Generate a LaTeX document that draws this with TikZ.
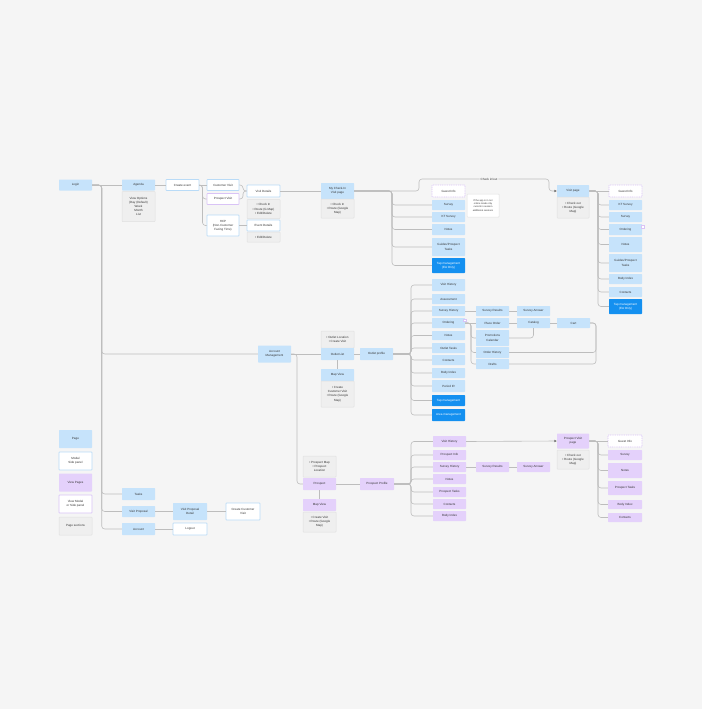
\documentclass[tikz,border=0pt]{standalone}
\usepackage{fontspec}
\setmainfont{Liberation Sans}
\usetikzlibrary{arrows.meta}
\definecolor{bg}{HTML}{F5F5F5}
\definecolor{pblue}{HTML}{C6E3FB}
\definecolor{mblue}{HTML}{B9DBF7}
\definecolor{dblue}{HTML}{1490F0}
\definecolor{purp}{HTML}{E4D1FB}
\definecolor{purpb}{HTML}{D9C3F6}
\definecolor{secg}{HTML}{EFEFEF}
\definecolor{secb}{HTML}{E0E0E0}
\definecolor{lineg}{HTML}{BDBDBD}
\definecolor{txt}{HTML}{333333}
\begin{document}
\begin{tikzpicture}[x=1pt,y=-1pt,
 box/.style={minimum width=33pt, inner sep=0.3pt, align=center, font=\fontsize{3}{4.2}\selectfont, text=txt, rounded corners=0.6pt},
 hh/.style={minimum height=#1pt},
 ww/.style={minimum width=#1pt},
 pg/.style={box, fill=pblue},
 md/.style={box, fill=white, draw=mblue, line width=0.7pt},
 vw/.style={box, fill=purp},
 vm/.style={box, fill=white, draw=purpb, line width=0.7pt},
 gi/.style={box, fill=white, draw=purpb, line width=0.6pt, dash pattern=on 1pt off 0.8pt},
 dk/.style={box, fill=dblue, text=white},
 sec/.style={box, fill=secg, draw=secb, line width=0.5pt},
 notebox/.style={box, fill=white, draw=secb, line width=0.5pt, font=\fontsize{2.4}{3.2}\selectfont},
 mk/.style={draw=purpb, fill=white, line width=0.5pt, minimum size=2.5pt, inner sep=0pt},
 conn/.style={draw=lineg, line width=0.6pt, rounded corners=3pt},
 arr/.style={conn, -{Triangle[length=2.4pt,width=2.2pt,color=black!55]}},
]
\fill[bg] (0,0) rectangle (702,709);
\useasboundingbox (0,0) rectangle (702,709);

% ---------- top-left ----------
\node[pg,hh=11] (login) at (75.5,185) {Login};
\node[pg,hh=11] (agenda) at (138.5,185) {Agenda};
\node[sec,hh=30] (agsec) at (138.5,206.5) {View Options\\(Day (Default)\\Week\\Month\\List};
\node[md,hh=11] (create) at (182.5,185) {Create event};
\node[md,hh=11,ww=32] (custv) at (223,185) {Customer Visit};
\node[vm,hh=11,ww=32] (prosv) at (223,199) {Prospect Visit};
\node[md,hh=21,ww=32] (hcp) at (223,225.5) {HCP\\(Non-Customer\\Facing Time)};
\node[md,hh=12] (visdet) at (263.5,191) {Visit Details};
\node[sec,hh=19] (visdetsec) at (263.5,209) {• Check In\\• Route (G Map)\\• Edit/Delete};
\node[md,hh=11] (evdet) at (263.5,225.5) {Event Details};
\node[sec,hh=10] (evdetsec) at (263.5,237) {• Edit/Delete};
\node[pg,hh=16] (mycheck) at (337.5,191) {My Check-In\\Visit page};
\node[sec,hh=19] (mychecksec) at (337.5,208.5) {• Check In\\• Route (Google\\Map)};

% ---------- column 1 ----------
\node[gi,hh=12] (gi1) at (448.5,191) {Guest Info};
\node[pg,hh=10] (sv1) at (448.5,205) {Survey};
\node[pg,hh=10] (kt1) at (448.5,217) {KT Survey};
\node[pg,hh=11] (nt1) at (448.5,229.5) {Notes};
\node[pg,hh=18] (gd1) at (448.5,247) {Guides/Prospect\\Tasks};
\node[dk,hh=15] (tap1) at (448.5,265.5) {Tap management\\(EA Only)};
\node[notebox,hh=23,ww=32] (note1) at (483,205.5) {If the app is in not\\online mode only\\current in session\\additional sessions};
\node[fill=bg, inner sep=0.8pt, font=\fontsize{3}{4}\selectfont, text=txt] (cklab) at (489,179) {Check in/out};

% ---------- visit page + column 2 ----------
\node[pg,hh=12,ww=32] (vp) at (573,191) {Visit page};
\node[sec,hh=21,ww=32] (vpsec) at (573,207.5) {• Check out\\• Route (Google\\Map)};
\node[gi,hh=12] (gi2) at (625.5,191) {Guest Info};
\node[pg,hh=10] (kt2) at (625.5,205) {KT Survey};
\node[pg,hh=10] (sv2) at (625.5,217) {Survey};
\node[pg,hh=11] (or2) at (625.5,229.5) {Ordering};
\node[mk] (mk2) at (642.5,226.5) {};
\node[pg,hh=15] (nt2) at (625.5,244.5) {Notes};
\node[pg,hh=18] (gd2) at (625.5,263) {Guides/Prospect\\Tasks};
\node[pg,hh=10] (bi2) at (625.5,279) {Body Index};
\node[pg,hh=10] (ct2) at (625.5,292) {Contacts};
\node[dk,hh=15] (tap2) at (625.5,306.5) {Tap management\\(EA Only)};

% ---------- account management ----------
\node[pg,hh=17] (am) at (274.5,354) {Account\\Management};
\node[sec,hh=17] (olsec) at (337.5,339.5) {• Outlet Location\\• Create Visit};
\node[pg,hh=12] (ol) at (337.5,354) {Outlet List};
\node[pg,hh=12] (omap) at (337.5,375) {Map View};
\node[sec,hh=26] (omapsec) at (337.5,394) {• Create\\Customer Visit\\• Route (Google\\Map)};
\node[pg,hh=12] (op) at (376.5,354) {Outlet profile};

% ---------- outlet column ----------
\node[pg,hh=12] (vh3) at (448.5,285) {Visit History};
\node[pg,hh=10] (as3) at (448.5,299) {Assessment};
\node[pg,hh=10] (sh3) at (448.5,311) {Survey History};
\node[pg,hh=10] (or3) at (448.5,323) {Ordering};
\node[mk] (mk3) at (464.5,320) {};
\node[pg,hh=9] (nt3) at (448.5,335.5) {Notes};
\node[pg,hh=10] (ot3) at (448.5,348) {Outlet Tasks};
\node[pg,hh=10] (ct3) at (448.5,360) {Contacts};
\node[pg,hh=10] (bi3) at (448.5,373) {Body Index};
\node[pg,hh=12] (pi3) at (448.5,386) {Period IR};
\node[dk,hh=11] (tap3) at (448.5,400.5) {Tap management};
\node[dk,hh=12] (area3) at (448.5,415) {Area management};

\node[pg,hh=10] (sr3) at (492.5,311) {Survey Results};
\node[pg,hh=10] (sa3) at (533.5,311) {Survey Answer};
\node[pg,hh=10] (po3) at (492.5,323) {Place Order};
\node[pg,hh=10] (cat3) at (533.5,323) {Catalog};
\node[pg,hh=10] (cart3) at (573.5,323) {Cart};
\node[pg,hh=16] (pc3) at (492.5,338) {Promotions\\Calendar};
\node[pg,hh=11] (oh3) at (492.5,352.5) {Order History};
\node[pg,hh=10] (dr3) at (492.5,364) {Drafts};

% ---------- bottom-left ----------
\node[pg,hh=12] (tasks) at (138.5,494) {Tasks};
\node[pg,hh=11] (vprop) at (138.5,511.5) {Visit Proposal};
\node[pg,hh=12] (acct) at (138.5,529) {Account};
\node[pg,hh=17,ww=34] (vpd) at (190,511.5) {Visit Proposal\\Detail};
\node[md,hh=17,ww=34] (ccv) at (243,511.5) {Create Customer\\Visit};
\node[md,hh=12,ww=34] (logout) at (190,529) {Logout};

% ---------- legend ----------
\node[pg,hh=18] (lg1) at (75.5,439) {Page};
\node[md,hh=18] (lg2) at (75.5,461) {Modal\\Side panel};
\node[vw,hh=18] (lg3) at (75.5,482.5) {View Pages};
\node[vm,hh=18] (lg4) at (75.5,504) {View Modal\\or Side panel};
\node[sec,hh=18] (lg5) at (75.5,526) {Page sections};

% ---------- prospect ----------
\node[sec,hh=21] (prossec) at (319.5,466.5) {• Prospect Map\\• Prospect\\Location};
\node[vw,hh=12] (pros) at (319.5,484) {Prospect};
\node[vw,hh=12] (pmap) at (319.5,505) {Map View};
\node[sec,hh=20] (pmapsec) at (319.5,522) {• Create Visit\\• Route (Google\\Map)};
\node[vw,hh=12,ww=34] (pprof) at (377,484) {Prospect Profile};

\node[vw,hh=11] (vh4) at (449.5,441.5) {Visit History};
\node[vw,hh=10] (pi4) at (449.5,455) {Prospect Info};
\node[vw,hh=10] (sh4) at (449.5,467) {Survey History};
\node[vw,hh=10] (nt4) at (449.5,479) {Notes};
\node[vw,hh=10] (pt4) at (449.5,492) {Prospect Tasks};
\node[vw,hh=10] (ct4) at (449.5,504) {Contacts};
\node[vw,hh=10] (bi4) at (449.5,516) {Body Index};
\node[vw,hh=10] (sr4) at (492.5,467) {Survey Results};
\node[vw,hh=10] (sa4) at (533.5,467) {Survey Answer};

\node[vw,hh=15,ww=32] (pvp) at (573,441) {Prospect Visit\\page};
\node[sec,hh=19,ww=32] (pvpsec) at (573,459.5) {• Check out\\• Route (Google\\Map)};
\node[gi,hh=12,ww=34] (gi5) at (625,441) {Guest Info};
\node[vw,hh=10,ww=34] (sv5) at (625,455) {Survey};
\node[vw,hh=15,ww=34] (nt5) at (625,470.5) {Notes};
\node[vw,hh=14,ww=34] (pt5) at (625,488) {Prospect Tasks};
\node[vw,hh=9,ww=34] (bi5) at (625,504.5) {Body Index};
\node[vw,hh=9,ww=34] (ct5) at (625,517.5) {Contacts};

% ---------- coordinates ----------
\coordinate (ls) at (101.7,185);
\coordinate (cb) at (202.5,185);
\coordinate (vb) at (243,191);
\coordinate (b1) at (392,191);
\coordinate (ck1) at (419,179);
\coordinate (ck2) at (549,179);
\coordinate (b2) at (598,191);
\coordinate (amb) at (297,354);
\coordinate (ob) at (411,354);
\coordinate (orb) at (471,323);
\coordinate (cartR) at (596,323);
\coordinate (pb) at (411,484);
\coordinate (b5) at (598,441);

% ---------- connectors ----------
\draw[conn] (login.east) -- (agenda.west);
\foreach \c in {am,tasks,vprop,acct} \draw[conn] (login.east) -- (ls) |- (\c.west);
\draw[conn] (agenda.east) -- (create.west);
\draw[conn] (create.east) -- (custv.west);
\foreach \c in {prosv,hcp} \draw[conn] (create.east) -- (cb) |- (\c.west);
\foreach \c in {custv,prosv} \draw[conn] (\c.east) -| (vb) -- (visdet.west);
\draw[conn] (hcp.east) -- (evdet.west);
\draw[conn] (visdet.east) -- (mycheck.west);
\foreach \c in {sv1,kt1,nt1,gd1,tap1} \draw[conn] (mycheck.east) -- (b1) |- (\c.west);
\draw[conn] (mycheck.east) -| (ck1) -- (cklab.west);
\draw[arr] (cklab.east) -- (ck2) |- (vp.west);
\draw[conn] (vp.east) -- (gi2.west);
\foreach \c in {kt2,sv2,or2,nt2,gd2,bi2,ct2,tap2} \draw[conn] (vp.east) -- (b2) |- (\c.west);

\draw[conn] (am.east) -- (ol.west);
\draw[conn] (am.east) -- (amb) |- (pros.west);
\draw[conn] (ol.east) -- (op.west);
\draw[conn] (ol.south) -- (omap.north);
\foreach \c in {vh3,as3,sh3,or3,nt3,ot3,ct3,bi3,pi3,tap3,area3} \draw[conn] (op.east) -- (ob) |- (\c.west);
\draw[conn] (sh3.east) -- (sr3.west);
\draw[conn] (sr3.east) -- (sa3.west);
\draw[conn] (or3.east) -- (po3.west);
\foreach \c in {pc3,oh3,dr3} \draw[conn] (or3.east) -- (orb) |- (\c.west);
\draw[conn] (po3.east) -- (cat3.west);
\draw[conn] (cat3.east) -- (cart3.west);
\draw[conn] (pc3.east) -| (cat3.south);
\foreach \c in {oh3,dr3} \draw[conn] (\c.east) -| (cartR) -- (cart3.east);

\draw[conn] (vprop.east) -- (vpd.west);
\draw[conn] (vpd.east) -- (ccv.west);
\draw[conn] (acct.east) -- (logout.west);

\draw[conn] (pros.east) -- (pprof.west);
\draw[conn] (pros.south) -- (pmap.north);
\foreach \c in {vh4,pi4,sh4,nt4,pt4,ct4,bi4} \draw[conn] (pprof.east) -- (pb) |- (\c.west);
\draw[conn] (sh4.east) -- (sr4.west);
\draw[conn] (sr4.east) -- (sa4.west);
\draw[arr] (vh4.east) -- (pvp.west);
\draw[conn] (pvp.east) -- (gi5.west);
\foreach \c in {sv5,nt5,pt5,bi5,ct5} \draw[conn] (pvp.east) -- (b5) |- (\c.west);
\end{tikzpicture}
\end{document}
